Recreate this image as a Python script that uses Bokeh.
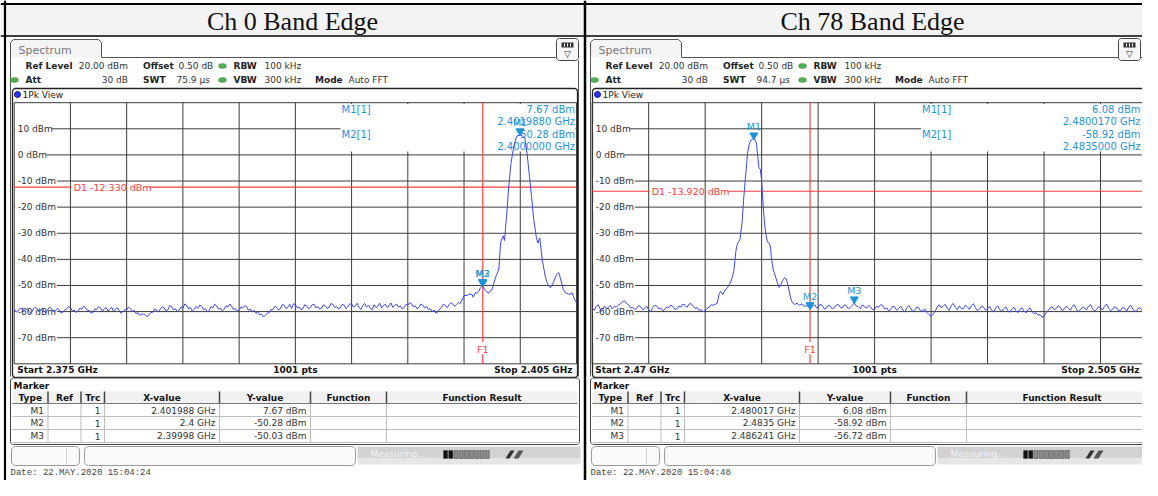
import math
from bokeh.plotting import figure
from bokeh.models import Range1d
from bokeh.embed import file_html
from bokeh.resources import INLINE
from bokeh.core.properties import value

# ---------------- data ----------------
panel_titles = ["Ch 0 Band Edge", "Ch 78 Band Edge"]
span_start_mhz = [2375.0, 2470.0]
span_stop_mhz = [2405.0, 2505.0]
start_labels = ["Start 2.375 GHz", "Start 2.47 GHz"]
stop_labels = ["Stop 2.405 GHz", "Stop 2.505 GHz"]
points_label = "1001 pts"
ref_level_dbm = 20.0
bottom_level_dbm = -80.0
level_ticks_dbm = [10, 0, -10, -20, -30, -40, -50, -60, -70]
level_tick_labels = ["10 dBm", "0 dBm", "-10 dBm", "-20 dBm", "-30 dBm",
                     "-40 dBm", "-50 dBm", "-60 dBm", "-70 dBm"]
swt_values = ["75.9 µs", "94.7 µs"]
d1_level_dbm = [-12.330, -13.920]
d1_labels = ["D1  -12.330 dBm", "D1  -13.920 dBm"]
f1_freq_mhz = [2400.0, 2483.5]
date_labels = ["Date: 22.MAY.2020  15:04:24", "Date: 22.MAY.2020  15:04:48"]

marker_names = ["M1", "M2", "M3"]
ch0_marker_freq_mhz = [2401.988, 2400.0, 2399.98]
ch0_marker_level_dbm = [7.67, -50.28, -50.03]
ch0_marker_x_text = ["2.401988 GHz", "2.4 GHz", "2.39998 GHz"]
ch0_marker_y_text = ["7.67 dBm", "-50.28 dBm", "-50.03 dBm"]
ch0_readout = ["7.67 dBm", "2.4019880 GHz", "-50.28 dBm", "2.4000000 GHz"]

ch78_marker_freq_mhz = [2480.017, 2483.5, 2486.241]
ch78_marker_level_dbm = [6.08, -58.92, -56.72]
ch78_marker_x_text = ["2.480017 GHz", "2.4835 GHz", "2.486241 GHz"]
ch78_marker_y_text = ["6.08 dBm", "-58.92 dBm", "-56.72 dBm"]
ch78_readout = ["6.08 dBm", "2.4800170 GHz", "-58.92 dBm", "2.4835000 GHz"]

# ---- Ch 0 trace (MHz, dBm) ----
ch0_floor_freq_mhz = [
    2375.0, 2375.1, 2375.2, 2375.3, 2375.4, 2375.5, 2375.6, 2375.7, 2375.8, 2375.9,
    2376.0, 2376.1, 2376.2, 2376.3, 2376.4, 2376.5, 2376.6, 2376.7, 2376.8, 2376.9,
    2377.0, 2377.1, 2377.2, 2377.3, 2377.4, 2377.5, 2377.6, 2377.7, 2377.8, 2377.9,
    2378.0, 2378.1, 2378.2, 2378.3, 2378.4, 2378.5, 2378.6, 2378.7, 2378.8, 2378.9,
    2379.0, 2379.1, 2379.2, 2379.3, 2379.4, 2379.5, 2379.6, 2379.7, 2379.8, 2379.9,
    2380.0, 2380.1, 2380.2, 2380.3, 2380.4, 2380.5, 2380.6, 2380.7, 2380.8, 2380.9,
    2381.0, 2381.1, 2381.2, 2381.3, 2381.4, 2381.5, 2381.6, 2381.7, 2381.8, 2381.9,
    2382.0, 2382.1, 2382.2, 2382.3, 2382.4, 2382.5, 2382.6, 2382.7, 2382.8, 2382.9,
    2383.0, 2383.1, 2383.2, 2383.3, 2383.4, 2383.5, 2383.6, 2383.7, 2383.8, 2383.9,
    2384.0, 2384.1, 2384.2, 2384.3, 2384.4, 2384.5, 2384.6, 2384.7, 2384.8, 2384.9,
    2385.0, 2385.1, 2385.2, 2385.3, 2385.4, 2385.5, 2385.6, 2385.7, 2385.8, 2385.9,
    2386.0, 2386.1, 2386.2, 2386.3, 2386.4, 2386.5, 2386.6, 2386.7, 2386.8, 2386.9,
    2387.0, 2387.1, 2387.2, 2387.3, 2387.4, 2387.5, 2387.6, 2387.7, 2387.8, 2387.9,
    2388.0, 2388.1, 2388.2, 2388.3, 2388.4, 2388.5, 2388.6, 2388.7, 2388.8, 2388.9,
    2389.0, 2389.1, 2389.2, 2389.3, 2389.4, 2389.5, 2389.6, 2389.7, 2389.8, 2389.9,
    2390.0, 2390.1, 2390.2, 2390.3, 2390.4, 2390.5, 2390.6, 2390.7, 2390.8, 2390.9,
    2391.0, 2391.1, 2391.2, 2391.3, 2391.4, 2391.5, 2391.6, 2391.7, 2391.8, 2391.9,
    2392.0, 2392.1, 2392.2, 2392.3, 2392.4, 2392.5, 2392.6, 2392.7, 2392.8, 2392.9,
    2393.0, 2393.1, 2393.2, 2393.3, 2393.4, 2393.5, 2393.6, 2393.7, 2393.8, 2393.9,
    2394.0, 2394.1, 2394.2, 2394.3, 2394.4, 2394.5, 2394.6, 2394.7, 2394.8, 2394.9,
    2395.0, 2395.1, 2395.2, 2395.3, 2395.4, 2395.5, 2395.6, 2395.7, 2395.8, 2395.9,
    2396.0, 2396.1, 2396.2, 2396.3, 2396.4, 2396.5, 2396.6, 2396.7, 2396.8, 2396.9,
    2397.0, 2397.1, 2397.2, 2397.3, 2397.4, 2397.5, 2397.6, 2397.7, 2397.8, 2397.9,
    2398.0, 2398.1, 2398.2, 2398.3, 2398.4, 2398.5, 2398.6, 2398.7, 2398.8,
]
ch0_floor_dbm = [
    -59.0, -60.2, -59.8, -58.9, -58.6, -60.0, -59.4, -58.8, -60.1, -60.6,
    -59.2, -58.4, -58.7, -59.9, -59.6, -58.9, -60.0, -60.4, -59.1, -58.3,
    -58.9, -60.1, -59.7, -58.8, -59.3, -60.5, -60.2, -59.3, -59.0, -58.1,
    -58.5, -59.7, -59.4, -60.3, -59.9, -58.7, -59.1, -58.0, -58.4, -59.6,
    -59.5, -60.6, -60.3, -59.0, -59.2, -58.1, -58.6, -59.9, -59.0, -58.4,
    -59.8, -59.0, -58.3, -60.0, -59.1, -58.5, -59.6, -60.7, -60.0, -59.3,
    -59.2, -58.3, -58.8, -60.0, -59.5, -60.8, -60.4, -61.5, -60.9, -61.0,
    -61.3, -62.0, -61.0, -60.4, -60.2, -59.0, -59.4, -60.2, -59.0, -58.2,
    -58.6, -59.8, -59.3, -57.7, -58.1, -59.4, -58.9, -60.0, -59.5, -58.2,
    -58.7, -57.1, -57.6, -59.0, -58.4, -59.8, -59.2, -58.0, -58.8, -57.5,
    -58.0, -59.3, -58.9, -60.1, -59.6, -58.1, -58.5, -57.2, -57.8, -59.1,
    -58.6, -59.7, -59.1, -57.8, -58.3, -57.1, -57.9, -59.2, -58.8, -59.9,
    -59.4, -58.2, -58.6, -57.7, -58.1, -59.5, -59.0, -60.1, -59.5, -60.6,
    -60.2, -61.3, -61.0, -62.0, -61.4, -60.6, -60.5, -59.3, -59.2, -58.0,
    -58.4, -59.4, -58.9, -57.3, -57.6, -58.9, -58.3, -57.2, -58.8, -57.0,
    -57.4, -58.6, -58.2, -59.3, -58.9, -57.4, -57.7, -58.9, -58.5, -57.3,
    -57.2, -58.6, -58.1, -59.1, -58.7, -57.4, -57.9, -58.8, -58.4, -56.9,
    -57.3, -58.4, -58.0, -59.0, -58.6, -57.2, -57.5, -58.9, -58.2, -57.1,
    -57.0, -58.3, -57.8, -56.8, -58.5, -59.2, -57.6, -56.9, -58.3, -57.5,
    -58.8, -59.3, -57.4, -58.5, -57.9, -56.8, -58.6, -57.7, -57.2, -58.4,
    -57.8, -56.7, -58.4, -57.6, -57.1, -58.3, -57.9, -59.0, -58.5, -57.2,
    -57.6, -56.6, -57.0, -58.2, -57.8, -59.0, -58.3, -57.1, -57.5, -58.6,
    -58.0, -59.2, -58.9, -60.0, -59.4, -60.6, -60.2, -59.1, -58.3, -57.2,
    -57.6, -58.5, -57.4, -56.6, -57.1, -58.0, -57.3, -56.5, -56.9,
]
ch0_peak_freq_mhz = [
    2399.00, 2399.17, 2399.26, 2399.43, 2399.49, 2399.61, 2399.70, 2399.79, 2399.88, 2399.98,
    2400.00, 2400.15, 2400.32, 2400.50, 2400.68, 2400.86, 2400.95, 2401.09, 2401.16, 2401.27,
    2401.39, 2401.51, 2401.66, 2401.80, 2401.92, 2401.988, 2402.10, 2402.24, 2402.37, 2402.49,
    2402.60, 2402.72, 2402.85, 2402.94, 2403.04, 2403.17, 2403.35, 2403.47, 2403.61, 2403.76,
    2403.93, 2404.06, 2404.18, 2404.29, 2404.41, 2404.59, 2404.77, 2404.89, 2405.00,
]
ch0_peak_dbm = [
    -53.9, -53.8, -53.3, -53.5, -54.5, -52.7, -53.0, -52.2, -50.8, -50.03,
    -50.28, -52.0, -53.0, -51.4, -46.9, -43.7, -33.5, -31.0, -32.8, -23.3,
    -11.8, -2.9, 3.5, 7.0, 7.5, 7.67, 7.3, 6.5, 0.1, -8.2,
    -15.9, -24.8, -31.2, -33.8, -31.8, -40.1, -47.1, -49.6, -50.9, -49.0,
    -45.8, -45.1, -48.3, -51.5, -52.8, -53.4, -52.8, -55.3, -56.6,
]

# ---- Ch 78 trace (MHz, dBm) ----
ch78_low_freq_mhz = [
    2470.000, 2470.125, 2470.250, 2470.375, 2470.500, 2470.625, 2470.750, 2470.875,
    2471.000, 2471.125, 2471.250, 2471.375, 2471.500, 2471.625, 2471.750, 2471.875,
    2472.000, 2472.125, 2472.250, 2472.375, 2472.500, 2472.625, 2472.750, 2472.875,
    2473.000, 2473.125, 2473.250, 2473.375, 2473.500, 2473.625, 2473.750, 2473.875,
    2474.000, 2474.125, 2474.250, 2474.375, 2474.500, 2474.625, 2474.750, 2474.875,
    2475.000, 2475.125, 2475.250, 2475.375, 2475.500, 2475.625, 2475.750, 2475.875,
    2476.000, 2476.125, 2476.250, 2476.375, 2476.500, 2476.625, 2476.750, 2476.875,
    2477.000, 2477.125, 2477.250, 2477.375, 2477.500,
]
ch78_low_dbm = [
    -58.6, -59.5, -58.0, -57.4, -59.1, -59.8, -57.9, -58.9,
    -58.4, -57.6, -59.0, -58.1, -58.2, -57.5, -57.0, -56.2,
    -55.9, -56.9, -57.4, -58.6, -58.3, -59.2, -58.8, -57.7,
    -58.1, -59.3, -58.9, -58.0, -59.3, -60.0, -58.4, -57.6,
    -57.9, -59.0, -58.7, -59.7, -59.2, -58.2, -58.5, -57.5,
    -58.0, -59.2, -58.9, -57.9, -58.3, -57.1, -57.6, -58.4,
    -57.2, -56.9, -57.8, -58.8, -58.5, -59.6, -59.2, -60.1,
    -59.6, -58.7, -58.3, -57.4, -57.6,
]
ch78_peak_freq_mhz = [
    2477.75, 2477.85, 2477.95, 2478.10, 2478.24, 2478.37, 2478.50, 2478.58, 2478.70, 2478.78,
    2478.91, 2479.00, 2479.08, 2479.15, 2479.20, 2479.30, 2479.38, 2479.48, 2479.58, 2479.62,
    2479.72, 2479.82, 2479.92, 2480.017, 2480.10, 2480.18, 2480.25, 2480.33, 2480.42, 2480.50,
    2480.60, 2480.70, 2480.76, 2480.85, 2480.96, 2481.05, 2481.10, 2481.22, 2481.37, 2481.50,
    2481.58, 2481.70, 2481.80, 2481.92, 2482.02, 2482.12, 2482.22, 2482.30, 2482.40, 2482.55,
    2482.70, 2482.85, 2483.00, 2483.15, 2483.30, 2483.50, 2483.65,
    2483.800, 2483.900, 2484.000, 2484.125, 2484.250, 2484.375, 2484.500, 2484.625,
    2484.750, 2484.875, 2485.000, 2485.125, 2485.250, 2485.375, 2485.500, 2485.625,
    2485.750, 2485.875, 2486.000, 2486.125, 2486.241, 2486.375, 2486.500, 2486.625,
    2486.750, 2486.875,
]
ch78_peak_dbm = [
    -56.8, -53.6, -52.3, -53.5, -51.7, -51.0, -49.5, -48.7, -46.5, -44.3,
    -36.6, -34.0, -33.2, -32.5, -30.2, -25.0, -17.4, -9.8, -3.0, 0.4,
    3.8, 5.6, 5.9, 6.08, 5.8, 4.5, 0.0, -4.8, -5.6, -9.8,
    -20.0, -27.5, -30.2, -33.0, -34.0, -35.0, -39.2, -44.0, -46.8, -49.5,
    -50.7, -49.5, -48.1, -47.0, -47.5, -49.5, -52.5, -54.9, -56.5, -57.3,
    -56.8, -57.6, -57.0, -58.0, -57.6, -58.92, -58.2,
    -57.4, -58.6, -58.3, -57.2, -57.6, -58.9, -58.8, -57.6,
    -57.9, -59.0, -58.5, -57.5, -57.3, -58.4, -58.6, -57.4,
    -57.8, -58.9, -58.4, -57.6, -56.72, -57.9, -58.1, -58.9,
    -57.4, -58.2,
]
ch78_high_freq_mhz = [
    2487.000, 2487.125, 2487.250, 2487.375, 2487.500, 2487.625, 2487.750, 2487.875,
    2488.000, 2488.125, 2488.250, 2488.375, 2488.500, 2488.625, 2488.750, 2488.875,
    2489.000, 2489.125, 2489.250, 2489.375, 2489.500, 2489.625, 2489.750, 2489.875,
    2490.000, 2490.125, 2490.250, 2490.375, 2490.500, 2490.625, 2490.750, 2490.875,
    2491.000, 2491.125, 2491.250, 2491.375, 2491.500, 2491.625, 2491.750, 2491.875,
    2492.000, 2492.125, 2492.250, 2492.375, 2492.500, 2492.625, 2492.750, 2492.875,
    2493.000, 2493.125, 2493.250, 2493.375, 2493.500, 2493.625, 2493.750, 2493.875,
    2494.000, 2494.125, 2494.250, 2494.375, 2494.500, 2494.625, 2494.750, 2494.875,
    2495.000, 2495.125, 2495.250, 2495.375, 2495.500, 2495.625, 2495.750, 2495.875,
    2496.000, 2496.125, 2496.250, 2496.375, 2496.500, 2496.625, 2496.750, 2496.875,
    2497.000, 2497.125, 2497.250, 2497.375, 2497.500, 2497.625, 2497.750, 2497.875,
    2498.000, 2498.125, 2498.250, 2498.375, 2498.500, 2498.625, 2498.750, 2498.875,
    2499.000, 2499.125, 2499.250, 2499.375, 2499.500, 2499.625, 2499.750, 2499.875,
    2500.000, 2500.125, 2500.250, 2500.375, 2500.500, 2500.625, 2500.750, 2500.875,
    2501.000, 2501.125, 2501.250, 2501.375, 2501.500, 2501.625, 2501.750, 2501.875,
    2502.000, 2502.125, 2502.250, 2502.375, 2502.500, 2502.625, 2502.750, 2502.875,
    2503.000, 2503.125, 2503.250, 2503.375, 2503.500, 2503.625, 2503.750, 2503.875,
    2504.000, 2504.125, 2504.250, 2504.375, 2504.500, 2504.625, 2504.750, 2504.875,
    2505.000,
]
ch78_high_dbm = [
    -58.7, -57.6, -58.2, -59.3, -59.0, -58.0, -58.4, -57.3,
    -57.8, -59.0, -58.6, -59.8, -59.1, -58.0, -58.3, -59.5,
    -58.8, -57.9, -59.4, -60.2, -58.5, -57.7, -58.9, -60.0,
    -59.3, -58.2, -58.7, -60.0, -59.6, -59.1, -60.4, -61.2,
    -61.8, -61.0, -59.9, -58.3, -57.4, -58.5, -58.0, -57.2,
    -58.7, -59.6, -57.6, -56.9, -58.4, -59.3, -57.8, -58.8,
    -58.9, -57.6, -58.2, -59.2, -57.7, -57.0, -58.6, -59.7,
    -59.0, -57.9, -58.3, -59.5, -58.8, -58.0, -59.4, -60.2,
    -58.6, -57.8, -59.2, -60.0, -58.9, -58.2, -59.5, -60.3,
    -59.0, -58.3, -59.6, -60.4, -59.1, -58.5, -59.7, -60.5,
    -59.3, -58.6, -59.9, -60.8, -60.4, -61.4, -61.2, -62.1,
    -61.9, -60.5, -59.6, -58.6, -58.2, -59.3, -58.8, -57.8,
    -58.3, -59.6, -59.1, -58.0, -58.6, -59.5, -58.1, -57.4,
    -58.9, -60.0, -59.4, -58.3, -58.5, -59.4, -58.0, -57.3,
    -58.8, -59.8, -59.3, -58.2, -58.4, -59.4, -57.9, -57.1,
    -58.7, -59.7, -59.2, -58.1, -58.6, -59.8, -59.5, -58.4,
    -58.8, -59.9, -58.2, -57.6, -59.0, -60.0, -59.6, -58.5,
    -58.9, -60.0, -59.4, -58.6, -59.8, -60.5, -59.2, -58.4,
    -59.6,
]

traces_freq = [ch0_floor_freq_mhz + ch0_peak_freq_mhz,
               ch78_low_freq_mhz + ch78_peak_freq_mhz + ch78_high_freq_mhz]
traces_level = [ch0_floor_dbm + ch0_peak_dbm,
                ch78_low_dbm + ch78_peak_dbm + ch78_high_dbm]
markers_freq = [ch0_marker_freq_mhz, ch78_marker_freq_mhz]
markers_level = [ch0_marker_level_dbm, ch78_marker_level_dbm]
markers_x_text = [ch0_marker_x_text, ch78_marker_x_text]
markers_y_text = [ch0_marker_y_text, ch78_marker_y_text]
readouts = [ch0_readout, ch78_readout]

# ---------------- layout (reference pixel coordinates) ----------------
W, H = 1142, 480
EDGE = W - 2          # last visible column for right-aligned text
PANELS = [dict(ox=0, right=580, gx0=13.7, gx1=576.0),
          dict(ox=580, right=1160, gx0=591.7, gx1=1156.5)]
GY0, GY1 = 102.2, 363.3

SANS = "DejaVu Sans"
TRACE = "#3d45ee"
MARK = "#1f93d8"
RED = "#ff3b3b"
GRID = "#3c3c3c"


def lin_range(px_a, px_b, v_a, v_b, px_lo, px_hi):
    k = (v_b - v_a) / (px_b - px_a)
    return Range1d(start=v_a + (px_lo - px_a) * k, end=v_a + (px_hi - px_a) * k)


p = figure(width=W, height=H, x_range=Range1d(0, W), y_range=Range1d(H, 0),
           output_backend="svg", toolbar_location=None,
           x_axis_location=None, y_axis_location=None, min_border=0,
           background_fill_color="white", border_fill_color="white")
p.outline_line_color = None
p.xgrid.visible = False
p.ygrid.visible = False
p.extra_y_ranges = {"db": lin_range(GY0, GY1, ref_level_dbm, bottom_level_dbm, H, 0)}
p.extra_x_ranges = {}
for i, pn in enumerate(PANELS):
    p.extra_x_ranges[f"f{i}"] = lin_range(pn["gx0"], pn["gx1"], span_start_mhz[i],
                                          span_stop_mhz[i], 0, W)

DB_PER_PX = (ref_level_dbm - bottom_level_dbm) / (GY1 - GY0)


def T(x, y, s, size=9, color="#222222", bold=False, align="left", font=SANS,
      xname="default", yname="default", baseline="middle", y_offset=0):
    p.text(x=[x], y=[y], text=[s], text_font=value(font), text_font_size=f"{size}px",
           text_color=color, text_font_style="bold" if bold else "normal",
           text_align=align, text_baseline=baseline, x_range_name=xname,
           y_range_name=yname, y_offset=y_offset)


def rrect(x0, y0, x1, y1, r, fill=None, line="#444444", lw=1.0):
    xs, ys = [], []
    corners = [(x1 - r, y0 + r, -90, 0), (x1 - r, y1 - r, 0, 90),
               (x0 + r, y1 - r, 90, 180), (x0 + r, y0 + r, 180, 270)]
    for cx, cy, a0, a1 in corners:
        for k in range(5):
            t = math.radians(a0 + (a1 - a0) * k / 4)
            xs.append(cx + r * math.cos(t))
            ys.append(cy + r * math.sin(t))
    p.patch(xs, ys, fill_color=fill if fill else "white", fill_alpha=1 if fill else 0,
            line_color=line, line_width=lw)


def Q(x0, y0, x1, y1, color, alpha=1.0):
    p.quad(left=[x0], right=[x1], top=[y0], bottom=[y1], fill_color=color,
           fill_alpha=alpha, line_color=None)


# cell borders and title rows
Q(0, 4, 1160, 35, "#f3f3f3")
p.line([0, 1160], [35.5, 35.5], line_color="black", line_width=1.6)
p.line([0, 1160], [3.5, 3.5], line_color="black", line_width=2)
p.line([4.5, 4.5], [0, 500], line_color="black", line_width=2.2)
p.line([584.5, 584.5], [0, 500], line_color="black", line_width=2.5)

for i, pn in enumerate(PANELS):
    ox, rt, gx0, gx1 = pn["ox"], pn["right"], pn["gx0"], pn["gx1"]
    rx = min(ox + rt, W + 20)
    fx = f"f{i}"
    T(292 + ox, 20.5, panel_titles[i], size=26, color="#111111", align="center",
      font="Liberation Serif")

    # spectrum window frame and tab
    p.patch([ox + 10, ox + 10, ox + 13, ox + 98, ox + 101, ox + 101],
            [57, 42, 39, 39, 42, 57], fill_color="#f4f4f4", line_color=None)
    p.line([ox + 10, ox + 10, ox + 13, ox + 98, ox + 101, ox + 101, rx - 5, rx - 2, rx - 2],
           [376, 42, 39, 39, 42, 57, 57, 60, 376], line_color="#555555", line_width=1)
    T(ox + 18, 49.5, "Spectrum", size=11, color="#7a7a7a")
    # settings icon
    ix = min(ox + 556, EDGE - 22)
    rrect(ix, 38, ix + 22, 60, 3, fill="#f6f6f6", line="#444444")
    Q(ix + 5, 42, ix + 17, 47, "#333333")
    p.segment(x0=[ix + 8, ix + 11, ix + 14], y0=[43] * 3,
              x1=[ix + 8, ix + 11, ix + 14], y1=[46] * 3, line_color="white")
    T(ix + 11, 53.5, "▽", size=9, color="#333333", align="center")

    # hardware settings
    T(ox + 25, 65.5, "Ref Level", size=9, bold=True)
    T(ox + 127.5, 65.5, "20.00 dBm", size=9, color="#333333", align="right")
    T(ox + 142.5, 65.5, "Offset", size=9, bold=True)
    T(ox + 178, 65.5, "0.50 dB", size=9, color="#333333")
    T(ox + 233, 65.5, "RBW", size=9, bold=True)
    T(ox + 264, 65.5, "100 kHz", size=9, color="#333333")
    T(ox + 25, 79.5, "Att", size=9, bold=True)
    T(ox + 127.5, 79.5, "30 dB", size=9, color="#333333", align="right")
    T(ox + 142.5, 79.5, "SWT", size=9, bold=True)
    T(ox + 176, 79.5, swt_values[i], size=9, color="#333333")
    T(ox + 233, 79.5, "VBW", size=9, bold=True)
    T(ox + 264, 79.5, "300 kHz", size=9, color="#333333")
    T(ox + 314.5, 79.5, "Mode", size=9, bold=True)
    T(ox + 348, 79.5, "Auto FFT", size=9, color="#333333")
    p.ellipse(x=[ox + 222, ox + 14, ox + 222], y=[65.5, 79.5, 79.5], width=8, height=5,
              fill_color="#55b055", line_color="#3d8a3d", line_width=0.5)

    # 1Pk view box
    rrect(ox + 12, 88, rx - 3, 377, 3, fill="white", line="#222222", lw=1.3)
    p.circle(x=[ox + 17], y=[94], radius=3, fill_color="#2438ff", line_color="#111177")
    T(ox + 22, 94.5, "1Pk View", size=9, color="#222222")

    # grid (through the data scales)
    f0, f1 = span_start_mhz[i], span_stop_mhz[i]
    vx = [f0 + k * (f1 - f0) / 10 for k in range(11)]
    hy = [ref_level_dbm - 10 * k for k in range(11)]
    p.segment(x0=vx, y0=[bottom_level_dbm] * 11, x1=vx, y1=[ref_level_dbm] * 11,
              line_color=GRID, line_width=1, x_range_name=fx, y_range_name="db")
    p.segment(x0=[f0] * 11, y0=hy, x1=[f1] * 11, y1=hy, line_color=GRID, line_width=1,
              x_range_name=fx, y_range_name="db")

    # marker readout box
    p.quad(left=[gx1 - 236], right=[gx1 - 1.2], top=[ref_level_dbm - 0.5],
           bottom=[ref_level_dbm - (151 - GY0) * DB_PER_PX], fill_color="white",
           line_color=None, y_range_name="db")
    rd = readouts[i]
    rr = min(gx1 - 1.5, EDGE)
    T(gx1 - 235, 108.5, "M1[1]", size=10, color=MARK)
    T(gx1 - 235, 133.5, "M2[1]", size=10, color=MARK)
    T(rr, 108.5, rd[0], size=10, color=MARK, align="right")
    T(rr, 121, rd[1], size=10, color=MARK, align="right")
    T(rr, 133.5, rd[2], size=10, color=MARK, align="right")
    T(rr, 146, rd[3], size=10, color=MARK, align="right")

    # level labels with white backing
    for lv, lab in zip(level_ticks_dbm, level_tick_labels):
        wlab = 5.4 * len(lab) + 2
        p.quad(left=[gx0 + 0.8], right=[gx0 + 3 + wlab], top=[lv + 4.5 * DB_PER_PX],
               bottom=[lv - 4.5 * DB_PER_PX], fill_color="white", line_color=None,
               y_range_name="db")
        T(gx0 + 3.5, lv, lab, size=9, color="#333333", yname="db")

    # display line D1
    lx = gx0 + 58.5
    p.segment(x0=[gx0, lx + 77], y0=[d1_level_dbm[i]] * 2, x1=[lx - 1, gx1],
              y1=[d1_level_dbm[i]] * 2, line_color=RED, line_width=1.2, y_range_name="db")
    T(lx + 1, d1_level_dbm[i], d1_labels[i], size=9.5, color=RED, yname="db")

    # frequency line F1
    f1y = bottom_level_dbm + (GY1 - 348.5) * DB_PER_PX
    p.segment(x0=[f1_freq_mhz[i]] * 2, y0=[ref_level_dbm, f1y - 5.2 * DB_PER_PX],
              x1=[f1_freq_mhz[i]] * 2, y1=[f1y + 7 * DB_PER_PX, bottom_level_dbm],
              line_color=RED, line_width=1.2 if i == 0 else 2,
              line_alpha=1 if i == 0 else 0.6, x_range_name=fx, y_range_name="db")
    T(f1_freq_mhz[i], f1y, "F1", size=9.5, color=RED, align="center", xname=fx, yname="db")

    # trace
    p.line(traces_freq[i], traces_level[i], line_color=TRACE, line_width=1.0,
           x_range_name=fx, y_range_name="db")

    # markers
    mf, ml = markers_freq[i], markers_level[i]
    order = [2, 1, 0]
    p.scatter(x=[mf[k] for k in order], y=[ml[k] + 1.45 for k in order],
              marker="inverted_triangle", size=8, fill_color=MARK, line_color=MARK,
              x_range_name=fx, y_range_name="db")
    for k in order:
        T(mf[k], ml[k], marker_names[k], size=9.5, color=MARK, align="center",
          xname=fx, yname="db", baseline="bottom", y_offset=-7)

    # start / stop strip
    T(gx0 + 3, 369.5, start_labels[i], size=9, bold=True, color="#111111")
    T((gx0 + gx1) / 2, 369.5, points_label, size=9, bold=True, color="#111111",
      align="center")
    T(min(gx1 - 4, EDGE - 1), 369.5, stop_labels[i], size=9, bold=True, color="#111111",
      align="right")

    # marker table
    rrect(ox + 10, 377.5, rx - 1, 444, 3, fill="white", line="#444444")
    T(ox + 13, 385, "Marker", size=9, bold=True, color="#111111")
    cols = [12, 47.5, 80.5, 104, 219, 310, 386, 577]
    cx = [ox + c for c in cols]
    if i == 1:
        cx[-1] = 1157
    Q(cx[0], 391, cx[-1], 403, "#f1f1f1")
    p.line([cx[0], cx[-1]], [403, 403], line_color="#777777", line_width=1)
    p.segment(x0=cx[1:-1], y0=[391] * 6, x1=cx[1:-1], y1=[403] * 6,
              line_color="#444444", line_width=1.5)
    heads = ["Type", "Ref", "Trc", "X-value", "Y-value", "Function", "Function Result"]
    for c in range(7):
        T((cx[c] + cx[c + 1]) / 2, 397.5, heads[c], size=9, bold=True,
          color="#111111", align="center")
    p.segment(x0=cx[1:-1], y0=[403] * 6, x1=cx[1:-1], y1=[442] * 6,
              line_color="#bdbdbd", line_width=1)
    p.segment(x0=[cx[0]] * 3, y0=[416, 429, 442], x1=[cx[-1]] * 3, y1=[416, 429, 442],
              line_color="#bdbdbd", line_width=1)
    for r in range(3):
        yy = 410 + r * 12.8
        T(cx[1] - 4, yy, marker_names[r], size=9, color="#333333", align="right")
        T(cx[3] - 4, yy, "1", size=9, color="#333333", align="right")
        T(cx[4] - 4, yy, markers_x_text[i][r], size=9, color="#333333", align="right")
        T(cx[5] - 4, yy, markers_y_text[i][r], size=9, color="#333333", align="right")

    # status bar
    rrect(ox + 11, 446, ox + 79, 465, 4, fill="#fafafa", line="#9a9a9a")
    p.line([ox + 66, ox + 66], [448, 463], line_color="#d0d0d0")
    rrect(ox + 84, 446, ox + 355, 465, 4, fill="#fafafa", line="#9a9a9a")
    Q(ox + 357, 446, rx, 458, "#d2d2d2")
    Q(ox + 357, 458, rx, 464, "#e6e6e6")
    T(ox + 370, 453.5, "Measuring...", size=9, color="#f4f4f4")
    bx = [ox + 443 + 5.2 * k for k in range(9)]
    p.quad(left=bx, right=[b + 4.2 for b in bx], top=[450] * 9, bottom=[458] * 9,
           fill_color=["#111111", "#111111"] + ["#8a8a8a"] * 7, line_color="#444444",
           line_width=0.5)
    p.patch([ox + 505, ox + 510, ox + 514, ox + 509], [458, 450, 450, 458],
            fill_color="#333333", line_color=None)
    p.patch([ox + 513, ox + 518, ox + 523, ox + 518], [458, 450, 450, 458],
            fill_color="#555555", line_color=None)

    # date
    T(ox + 10, 472, date_labels[i], size=9, color="#444444", font="Liberation Mono")

open("out.html", "w").write(file_html(p, INLINE))
